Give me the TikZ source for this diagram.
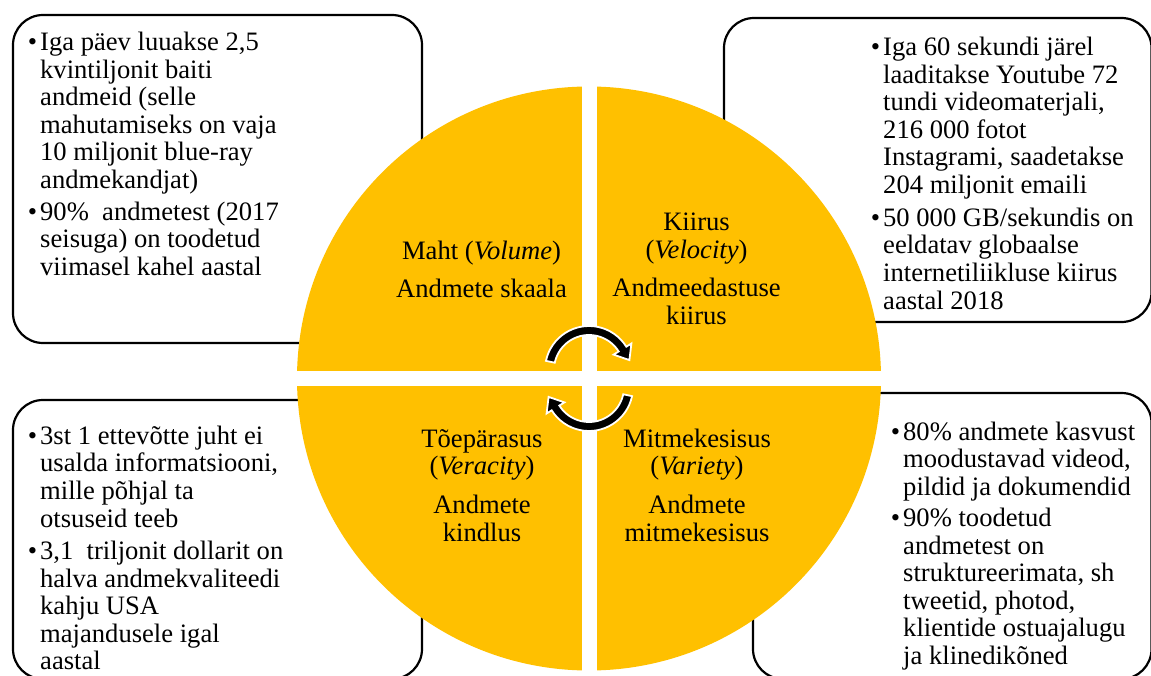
\documentclass[tikz,border=0pt]{standalone}
\usepackage{fontspec}
\setmainfont{Liberation Serif}
\definecolor{gold}{RGB}{255,192,0}
\newcommand{\mybul}{\makebox[0pt][r]{•\hspace{3bp}}}
\begin{document}
\begin{tikzpicture}[x=1bp,y=-1bp,
  box/.style={draw=black,line width=2.2bp,fill=white,rounded corners=30bp},
  txt/.style={font=\fontsize{26.7}{27.7}\selectfont,inner sep=0pt,align=left,anchor=base west},
  quad/.style={font=\fontsize{26.7}{27.7}\selectfont,inner sep=0pt,align=center,anchor=base},
  cyc/.style={fill=black,draw=white,line width=1.8bp,line join=miter}]
\useasboundingbox (0,0) rectangle (1151,676);
% boxes
\draw[box] (13,15) rectangle (422,343);
\draw[box] (724,18) rectangle (1151.5,322);
\draw[box] (13,400) rectangle (422,679);
\draw[box] (753,393) rectangle (1151.5,679);
% circle quadrants
\fill[gold] (589,378.5) circle[radius=292];
\begin{scope}
\clip (589,378.5) circle[radius=293];
\fill[white] (581.5,80) rectangle (597,680);
\fill[white] (290,371) rectangle (890,386);
\end{scope}
% cycle arrows (math orientation restored with yscale=-1)
\begin{scope}[shift={(589,370)},yscale=-1]
\draw[cyc] (168:44) arc[start angle=168,end angle=32,radius=44] -- (32:50) -- (40.4,9.9) -- (32:29) -- (32:35) arc[start angle=32,end angle=168,radius=35] -- cycle;
\end{scope}
\begin{scope}[shift={(589,387)},yscale=-1,rotate=180]
\draw[cyc] (168:44) arc[start angle=168,end angle=32,radius=44] -- (32:50) -- (40.4,9.9) -- (32:29) -- (32:35) arc[start angle=32,end angle=168,radius=35] -- cycle;
\end{scope}
% quadrant texts (anchored at the baseline of their last line)
\node[quad] (qvol) at (481.5,297) {Maht (\textit{Volume})\\[10.3pt]Andmete skaala};
\node[quad] (qvel) at (696.5,324) {Kiirus\\(\textit{Velocity})\\[10.3pt]Andmeedastuse\\kiirus};
\node[quad] (qver) at (482,541) {Tõepärasus\\(\textit{Veracity})\\[11pt]Andmete\\kindlus};
\node[quad] (qvar) at (697,541) {Mitmekesisus\\(\textit{Variety})\\[11pt]Andmete\\mitmekesisus};
% box texts (anchored at the baseline of their last line)
\node[txt] (tl1) at (40,188.5) {\mybul Iga päev luuakse 2,5\\kvintiljonit baiti\\andmeid (selle\\mahutamiseks on vaja\\10 miljonit blue-ray\\andmekandjat)};
\node[txt] (tl2) at (40,275.4) {\mybul 90\%~ andmetest (2017\\seisuga) on toodetud\\viimasel kahel aastal};
\node[txt] (tr1) at (883,193.5) {\mybul Iga 60 sekundi järel\\laaditakse Youtube 72\\tundi videomaterjali,\\216 000 fotot\\Instagrami, saadetakse\\204 miljonit emaili};
\node[txt] (tr2) at (883,309) {\mybul 50 000 GB/sekundis on\\eeldatav globaalse\\internetiliikluse kiirus\\aastal 2018};
\node[txt] (bl1) at (40,527) {\mybul 3st 1 ettevõtte juht ei\\usalda informatsiooni,\\mille põhjal ta\\otsuseid teeb};
\node[txt] (bl2) at (40,669.8) {\mybul 3,1~ triljonit dollarit on\\halva andmekvaliteedi\\kahju USA\\majandusele igal\\aastal};
\node[txt] (br1) at (903,495.4) {\mybul 80\% andmete kasvust\\moodustavad videod,\\pildid ja dokumendid};
\node[txt] (br2) at (903,664.5) {\mybul 90\% toodetud\\andmetest on\\struktureerimata, sh\\tweetid, photod,\\klientide ostuajalugu\\ja klinedikõned};
\end{tikzpicture}
\end{document}
